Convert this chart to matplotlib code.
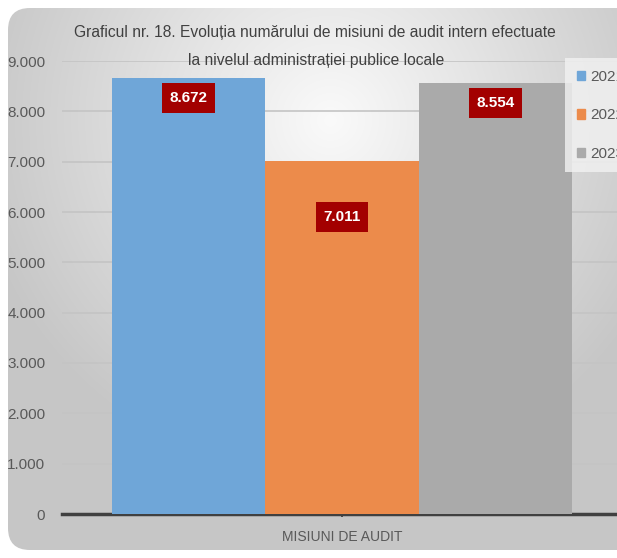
import matplotlib.pyplot as plt
import numpy as np
from matplotlib.patches import FancyBboxPatch

# ----------------- Data -----------------
years = ["2021", "2022", "2023"]
values = [8672, 7011, 8554]
value_labels = ["8.672", "7.011", "8.554"]
category = "MISIUNI DE AUDIT"
yticks = [0, 1000, 2000, 3000, 4000, 5000, 6000, 7000, 8000, 9000]
ytick_labels = ["0", "1.000", "2.000", "3.000", "4.000", "5.000",
                "6.000", "7.000", "8.000", "9.000"]
colors = ["#6fa6d8", "#ec8b4b", "#aaaaaa"]
title_lines = ["Graficul nr. 18. Evoluția numărului de misiuni de audit intern efectuate",
               "la nivelul administrației publice locale"]

plt.rcParams['font.family'] = ['Liberation Sans', 'DejaVu Sans']

fig = plt.figure(figsize=(6.17, 5.58), dpi=100)

# ----------------- Background panel -----------------
bg = fig.add_axes([0, 0, 1, 1])
bg.set_xlim(0, 617)
bg.set_ylim(558, 0)
bg.axis("off")
yy, xx = np.mgrid[0:558, 0:617]
r = np.sqrt(((xx - 330) / 430.0) ** 2 + ((yy - 120) / 430.0) ** 2)
shade = np.clip(0.98 - 0.24 * r, 0.78, 0.98)
img = bg.imshow(np.dstack([shade, shade, shade]), extent=(0, 617, 558, 0),
                zorder=0, interpolation="bilinear")
panel = FancyBboxPatch((8, 8), 640, 542, boxstyle="round,pad=0,rounding_size=22",
                       transform=bg.transData, facecolor="none", edgecolor="none")
bg.add_patch(panel)
img.set_clip_path(panel)

# ----------------- Chart -----------------
ax = fig.add_axes([62 / 617, 44 / 558, 560 / 617, 453 / 558])
ax.patch.set_alpha(0)
bw = 0.823 / 3
xs = [-bw, 0, bw]
ax.bar(xs, values, width=bw, color=colors, zorder=3)

# data labels (positions inside the bars as in the original)
label_y = [8265, 5900, 8166]
for x, ly, lab in zip(xs, label_y, value_labels):
    ax.text(x, ly, lab, ha="center", va="center", color="white",
            fontsize=11, fontweight="bold", zorder=5,
            bbox=dict(boxstyle="square,pad=0.5", facecolor="#a30000",
                      edgecolor="none"))

ax.set_xlim(-0.5, 0.5)
ax.set_ylim(0, 9000)
ax.set_yticks(yticks)
ax.set_yticklabels(ytick_labels, color="#595959", fontsize=11)
ax.tick_params(axis="y", length=0, pad=12)
ax.yaxis.grid(True, color="#c4c4c4", linewidth=1.2, zorder=1)
ax.set_axisbelow(True)

ax.set_xticks([0])
ax.set_xticklabels([category], color="#595959", fontsize=10)
ax.tick_params(axis="x", length=5, width=1.3, color="#404040", pad=9, direction="inout")

for s in ["top", "right", "left"]:
    ax.spines[s].set_visible(False)
ax.spines["bottom"].set_color("#404040")
ax.spines["bottom"].set_linewidth(2.5)

# legend (cut at the right edge, as in the original)
handles = [plt.Rectangle((0, 0), 1, 1, color=c) for c in colors]
leg = fig.legend(handles, years, loc="upper left",
                 bbox_to_anchor=(570 / 617, 1 - 63 / 558),
                 frameon=True, fontsize=11, handlelength=0.55, handleheight=0.55,
                 labelspacing=1.6, handletextpad=0.3, borderpad=0.45,
                 borderaxespad=0)
leg.get_frame().set_facecolor("#f2f2f2")
leg.get_frame().set_edgecolor("none")
leg.get_frame().set_boxstyle("square")
for t in leg.get_texts():
    t.set_color("#595959")

# title: two lines, first line fitted to ~485 px wide
t1 = fig.text(315 / 617, 1 - 32 / 558, title_lines[0], ha="center", va="center",
              fontsize=12, color="#404040")
fig.canvas.draw()
w = t1.get_window_extent().width
t1.set_fontsize(12 * 485 / w)
fig.text(316 / 617, 1 - 61 / 558, title_lines[1], ha="center", va="center",
         fontsize=t1.get_fontsize(), color="#404040")

fig.savefig("out.png", dpi=100)
